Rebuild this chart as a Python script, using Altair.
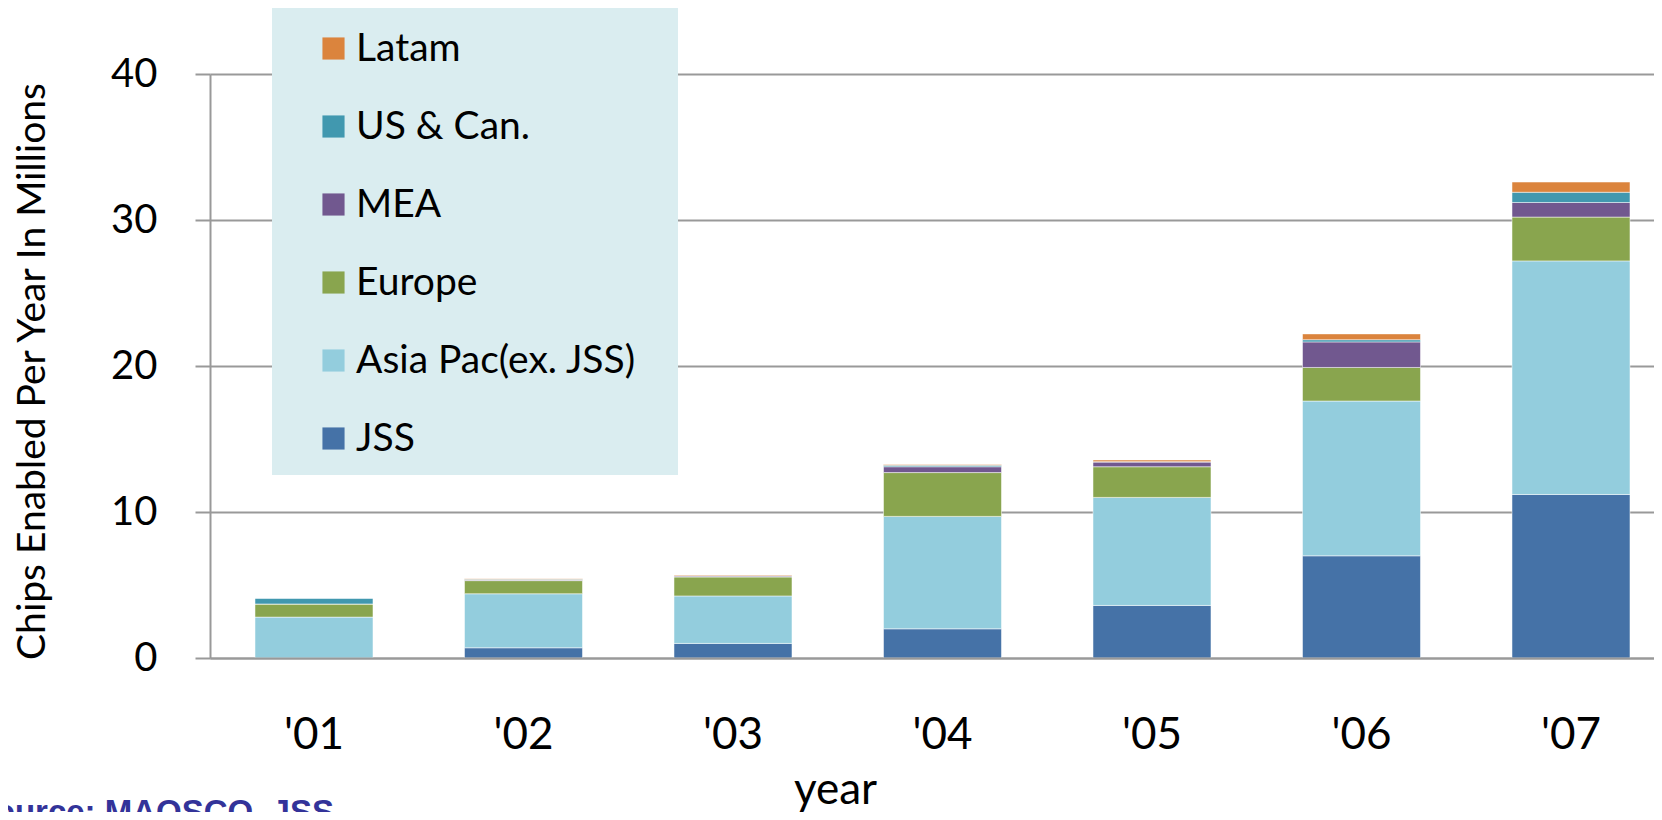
import altair as alt
import pandas as pd

years = ["'01", "'02", "'03", "'04", "'05", "'06", "'07"]
regions = ["Latam", "US & Can.", "MEA", "Europe", "Asia Pac(ex. JSS)", "JSS"]
colors = ["#DB843D", "#4198AF", "#71588F", "#89A54E", "#93CDDD", "#4572A7"]

jss = [0.0, 0.7, 1.0, 2.0, 3.6, 7.0, 11.2]
asia = [2.8, 3.7, 3.25, 7.7, 7.4, 10.6, 16.0]
europe = [0.9, 0.9, 1.3, 3.0, 2.1, 2.3, 3.0]
mea = [0.0, 0.05, 0.06, 0.4, 0.32, 1.75, 1.0]
uscan = [0.4, 0.05, 0.03, 0.1, 0.03, 0.15, 0.7]
latam = [0.0, 0.03, 0.05, 0.05, 0.11, 0.4, 0.7]

source_text = "Source: MAOSCO, JSS"

series = {
    "JSS": jss,
    "Asia Pac(ex. JSS)": asia,
    "Europe": europe,
    "MEA": mea,
    "US & Can.": uscan,
    "Latam": latam,
}
rows = []
for idx, (name, vals) in enumerate(series.items()):
    for y, v in zip(years, vals):
        rows.append({"year": y, "region": name, "value": v, "idx": idx})
df = pd.DataFrame(rows)

legend_bg = alt.Chart(pd.DataFrame({"k": [0]})).mark_rect(
    color="#DAEDF0"
).encode(
    x=alt.value(62), x2=alt.value(468), y=alt.value(-66), y2=alt.value(401)
)

bars = alt.Chart(df).mark_bar(stroke="white", strokeWidth=1, strokeOpacity=0.5).encode(
    x=alt.X(
        "year:N",
        sort=years,
        scale=alt.Scale(paddingInner=0.4368, paddingOuter=0.1647, align=0.652),
        axis=alt.Axis(
            title="year",
            labelAngle=0,
            labelFontSize=44,
            labelPadding=55,
            labelColor="black",
            ticks=False,
            tickSize=0,
            domainColor="#999999",
            domainWidth=2,
            grid=False,
            titleFontSize=44,
            titleFontWeight="normal",
            titleColor="black",
            titleX=625,
            titleY=145,
            titleBaseline="alphabetic",
            titleAlign="center",
            zindex=1,
        ),
    ),
    y=alt.Y(
        "value:Q",
        stack="zero",
        scale=alt.Scale(domain=[0, 40], nice=False),
        axis=alt.Axis(
            title="Chips Enabled Per Year In Millions",
            values=[0, 10, 20, 30, 40],
            grid=True,
            gridColor="#999999",
            gridWidth=2,
            domainColor="#999999",
            domainWidth=2,
            tickColor="#999999",
            tickWidth=2,
            tickSize=15,
            labelFontSize=40,
            labelPadding=38,
            labelColor="black",
            titleFontSize=39,
            titleFontWeight="normal",
            titleColor="black",
            titleX=-178,
            titleY=297,
            titleAngle=270,
            titleBaseline="middle",
            titleAlign="center",
        ),
    ),
    color=alt.Color(
        "region:N",
        scale=alt.Scale(domain=regions, range=colors),
        legend=alt.Legend(
            orient="none",
            legendX=104,
            legendY=-45,
            title=None,
            padding=0,
            symbolType="square",
            symbolSize=490,
            symbolStrokeWidth=0,
            symbolOpacity=1,
            labelFontSize=39,
            labelColor="black",
            rowPadding=38,
            symbolOffset=0,
            labelOffset=3,
            labelLimit=600,
        ),
    ),
    order=alt.Order("idx:Q", sort="ascending"),
)

src = alt.Chart(pd.DataFrame({"t": [source_text]})).mark_text(
    align="right",
    baseline="alphabetic",
    font="Liberation Sans",
    fontWeight="bold",
    fontSize=33,
    color="#333399",
).encode(text="t:N", x=alt.value(124), y=alt.value(749))

chart = alt.layer(legend_bg, bars, src).properties(
    width=1444,
    height=584,
    padding={"left": 202, "top": 66, "right": 0, "bottom": 154},
    autosize=alt.AutoSizeParams(type="none"),
).configure_view(stroke=None).configure_axis(
    labelFont="Lato", titleFont="Lato"
).configure_legend(labelFont="Lato")

chart.save("out.html", embed_options={"renderer": "svg", "actions": False})
